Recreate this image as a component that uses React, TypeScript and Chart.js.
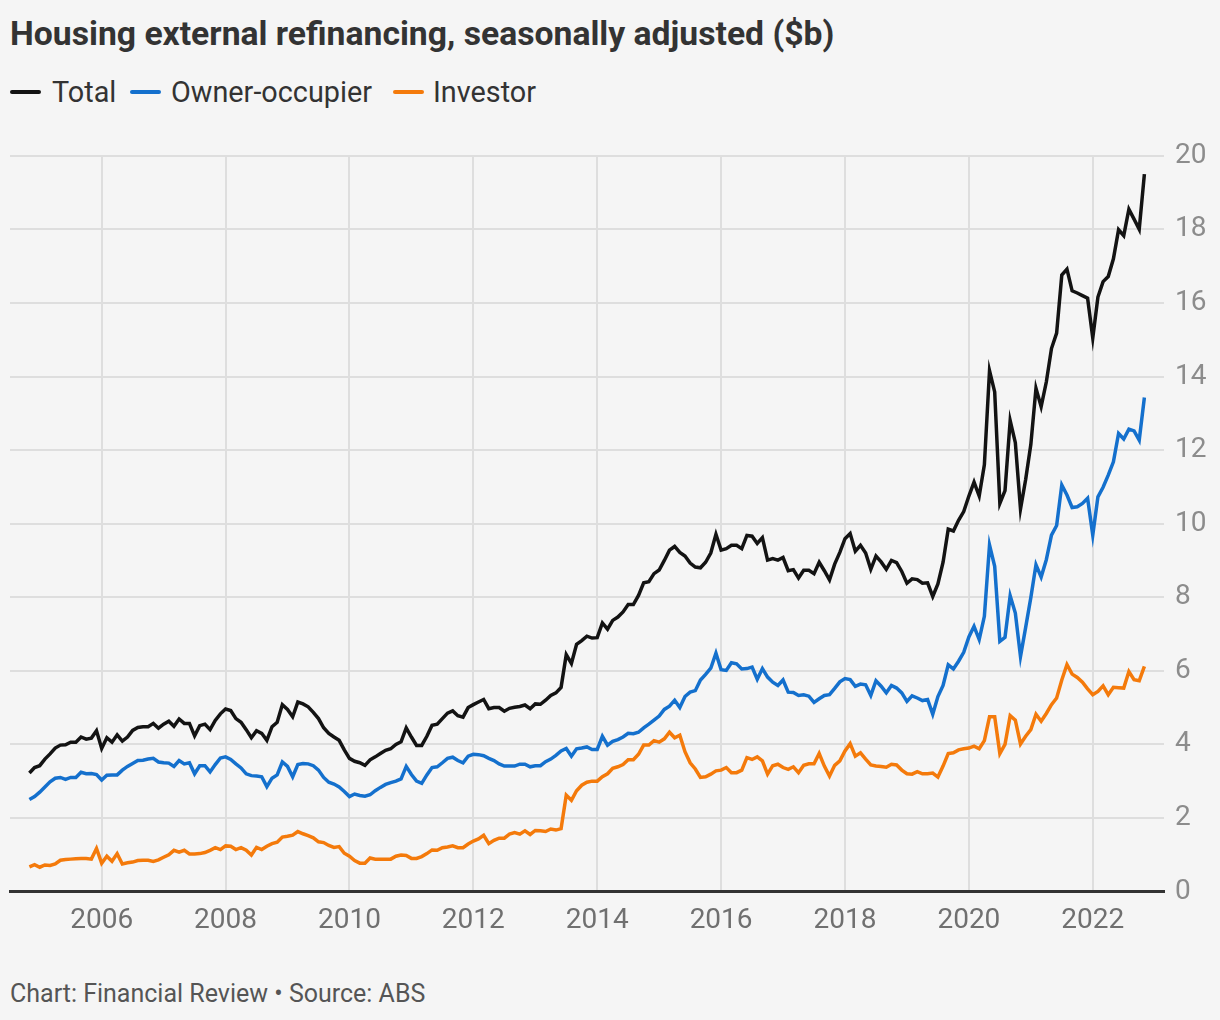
import React, { useEffect, useRef } from "react";
import { Chart, registerables } from "chart.js";

Chart.register(...registerables);

// Monthly series, first point November 2004
const START_YEAR = 2004;
const START_MONTH = 11;

const xTickYears = [2006, 2008, 2010, 2012, 2014, 2016, 2018, 2020, 2022];
const yTickValues = [0, 2, 4, 6, 8, 10, 12, 14, 16, 18, 20];

const seriesNames = ["Total", "Owner-occupier", "Investor"];
const seriesColors = ["#131313", "#1470cd", "#f47a0b"];

const total = [
  3.22, 3.37, 3.42, 3.6, 3.74, 3.9, 3.98, 3.99, 4.06, 4.06, 4.2, 4.14, 4.17, 4.37, 3.89, 4.18, 4.06, 4.26, 4.09, 4.2,
  4.38, 4.46, 4.48, 4.48, 4.57, 4.44, 4.55, 4.63, 4.49, 4.69, 4.57, 4.57, 4.23, 4.51, 4.55, 4.4, 4.65, 4.83, 4.96, 4.92,
  4.7, 4.6, 4.4, 4.18, 4.37, 4.3, 4.11, 4.48, 4.6, 5.08, 4.95, 4.75, 5.15, 5.1, 5.02, 4.87, 4.7, 4.45, 4.3, 4.2,
  4.11, 3.85, 3.62, 3.54, 3.5, 3.43, 3.58, 3.66, 3.75, 3.84, 3.88, 4.0, 4.07, 4.45, 4.2, 3.97, 3.97, 4.22, 4.52, 4.55,
  4.7, 4.85, 4.91, 4.78, 4.74, 5.0, 5.08, 5.15, 5.22, 4.97, 5.0, 5.0, 4.9, 4.98, 5.01, 5.03, 5.07, 4.97, 5.1, 5.09,
  5.2, 5.33, 5.4, 5.55, 6.44, 6.2, 6.72, 6.82, 6.94, 6.89, 6.9, 7.3, 7.13, 7.37, 7.46, 7.6, 7.8, 7.8, 8.05, 8.39,
  8.42, 8.64, 8.74, 9.0, 9.28, 9.38, 9.22, 9.12, 8.93, 8.82, 8.8, 8.95, 9.2, 9.71, 9.28, 9.32, 9.41, 9.41, 9.32, 9.68,
  9.66, 9.46, 9.62, 9.01, 9.05, 9.01, 9.08, 8.72, 8.75, 8.52, 8.73, 8.73, 8.64, 8.95, 8.72, 8.47, 8.9, 9.22, 9.59, 9.73,
  9.25, 9.41, 9.2, 8.76, 9.12, 8.96, 8.76, 9.0, 8.94, 8.7, 8.38, 8.5, 8.48, 8.38, 8.39, 8.02, 8.36, 8.95, 9.85, 9.8,
  10.09, 10.33, 10.75, 11.13, 10.75, 11.6, 14.16, 13.58, 10.55, 10.9, 12.8, 12.2, 10.4, 11.2, 12.15, 13.68, 13.18, 13.85, 14.76, 15.18,
  16.76, 16.92, 16.33, 16.27, 16.2, 16.13, 15.05, 16.16, 16.58, 16.72, 17.2, 17.99, 17.83, 18.55, 18.28, 18.0, 19.5,
];

const ownerOccupier = [
  2.5, 2.58, 2.7, 2.84, 2.98, 3.08, 3.1, 3.05, 3.1, 3.1, 3.24, 3.2, 3.21, 3.18, 3.03, 3.16, 3.17, 3.17, 3.3, 3.4,
  3.48, 3.56, 3.57, 3.6, 3.62, 3.52, 3.5, 3.49, 3.4, 3.56, 3.47, 3.5, 3.2, 3.42, 3.42, 3.25, 3.45, 3.63, 3.66, 3.59,
  3.47, 3.36, 3.2, 3.15, 3.14, 3.12, 2.85, 3.08, 3.17, 3.52, 3.4, 3.12, 3.45, 3.48, 3.47, 3.42, 3.3, 3.1, 2.97, 2.92,
  2.84, 2.72, 2.58, 2.65, 2.61, 2.59, 2.63, 2.74, 2.83, 2.91, 2.96, 3.0, 3.06, 3.4, 3.18, 3.0, 2.94, 3.17, 3.37, 3.39,
  3.5, 3.62, 3.65, 3.56, 3.5, 3.68, 3.73, 3.72, 3.69, 3.62, 3.56, 3.47, 3.41, 3.41, 3.41, 3.46, 3.46, 3.39, 3.42, 3.42,
  3.53, 3.6, 3.7, 3.82, 3.89, 3.68, 3.88, 3.9, 3.93, 3.86, 3.86, 4.22, 3.98, 4.08, 4.13, 4.2, 4.3, 4.29, 4.33, 4.45,
  4.55, 4.66, 4.77, 4.95, 5.04, 5.2, 5.0, 5.3, 5.42, 5.46, 5.75, 5.9, 6.07, 6.48, 6.03, 6.01, 6.22, 6.19, 6.05, 6.06,
  6.1, 5.77, 6.06, 5.83, 5.69, 5.6, 5.75, 5.42, 5.41, 5.33, 5.35, 5.31, 5.14, 5.24, 5.33, 5.35, 5.52, 5.7, 5.79, 5.76,
  5.58, 5.64, 5.62, 5.33, 5.73, 5.58, 5.4, 5.6, 5.53, 5.4, 5.17, 5.32, 5.26, 5.19, 5.22, 4.82, 5.3, 5.6, 6.16, 6.05,
  6.26, 6.5, 6.92, 7.21, 6.85, 7.48, 9.42, 8.84, 6.8, 6.91, 8.04, 7.57, 6.39, 7.18, 7.99, 8.88, 8.55, 9.02, 9.69, 9.95,
  11.05, 10.78, 10.44, 10.46, 10.55, 10.69, 9.69, 10.73, 10.99, 11.32, 11.68, 12.45, 12.3, 12.57, 12.52, 12.27, 13.43,
];

const investor = [
  0.67, 0.73, 0.66, 0.72, 0.71, 0.75, 0.85, 0.87, 0.88, 0.89, 0.9, 0.9, 0.88, 1.17, 0.77, 0.96, 0.82, 1.03, 0.75, 0.78,
  0.8, 0.84, 0.85, 0.85, 0.82, 0.86, 0.93, 1.0, 1.12, 1.07, 1.12, 1.02, 1.02, 1.03, 1.06, 1.12, 1.19, 1.14, 1.24, 1.23,
  1.14, 1.19, 1.12, 0.99, 1.2, 1.14, 1.23, 1.3, 1.34, 1.48, 1.5, 1.53, 1.63, 1.57, 1.52, 1.46, 1.35, 1.33, 1.25, 1.2,
  1.22, 1.04, 0.96, 0.84, 0.77, 0.77, 0.91, 0.88, 0.88, 0.88, 0.88, 0.96, 0.99, 0.98, 0.9, 0.9, 0.95, 1.03, 1.13, 1.12,
  1.19, 1.21, 1.24, 1.19, 1.19, 1.29, 1.37, 1.43, 1.53, 1.3, 1.39, 1.45, 1.45, 1.56, 1.6, 1.56, 1.65, 1.55, 1.66, 1.65,
  1.63, 1.7, 1.67, 1.71, 2.62, 2.48, 2.74, 2.89, 2.97, 3.0, 3.0, 3.12, 3.2, 3.35, 3.39, 3.45, 3.58, 3.58, 3.73, 3.98,
  3.98, 4.1, 4.06, 4.15, 4.33, 4.18, 4.25, 3.8, 3.5, 3.33, 3.1, 3.12, 3.19, 3.28, 3.3, 3.37, 3.23, 3.23, 3.3, 3.64,
  3.59, 3.66, 3.55, 3.19, 3.42, 3.46, 3.37, 3.32, 3.39, 3.23, 3.43, 3.47, 3.47, 3.75, 3.41, 3.14, 3.43, 3.55, 3.82, 4.02,
  3.68, 3.77, 3.6, 3.44, 3.41, 3.4, 3.38, 3.46, 3.44, 3.3, 3.2, 3.19, 3.26, 3.2, 3.2, 3.22, 3.11, 3.41, 3.75, 3.77,
  3.85, 3.88, 3.9, 3.95, 3.88, 4.1, 4.75, 4.75, 3.75, 4.0, 4.78, 4.66, 4.01, 4.22, 4.4, 4.82, 4.63, 4.84, 5.08, 5.26,
  5.75, 6.17, 5.91, 5.82, 5.69, 5.51, 5.35, 5.44, 5.59, 5.35, 5.55, 5.54, 5.53, 5.98, 5.76, 5.73, 6.12,
];

const seriesValues = [total, ownerOccupier, investor];

const monthToX = (i: number) => START_YEAR + (START_MONTH - 1 + i) / 12;

const FONT = "Roboto, 'Noto Sans', sans-serif";

export default function App() {
  const canvasRef = useRef<HTMLCanvasElement | null>(null);

  useEffect(() => {
    if (!canvasRef.current) return;
    const chart = new Chart(canvasRef.current, {
      type: "line",
      data: {
        datasets: seriesValues.map((vals, k) => ({
          label: seriesNames[k],
          data: vals.map((v, i) => ({ x: monthToX(i), y: v })),
          borderColor: seriesColors[k],
          backgroundColor: seriesColors[k],
          borderWidth: 3.5,
          pointRadius: 0,
          pointHoverRadius: 0,
          tension: 0,
          fill: false,
        })),
      },
      options: {
        animation: false,
        responsive: false,
        maintainAspectRatio: false,
        layout: { padding: { top: 0, left: 10, right: 0, bottom: 0 } },
        plugins: {
          legend: { display: false },
          tooltip: { enabled: false },
          title: { display: false },
        },
        scales: {
          x: {
            type: "linear",
            min: 2004.52,
            max: 2023.15,
            afterBuildTicks: (scale: any) => {
              scale.ticks = xTickYears.map((v) => ({ value: v }));
            },
            afterFit: (scale: any) => {
              scale.height = 68.5;
            },
            grid: { color: "#dedede", lineWidth: 2, drawTicks: false },
            border: { display: true, color: "#333333", width: 3 },
            ticks: {
              padding: 13,
              color: "#707070",
              font: { family: FONT, size: 28 },
              maxRotation: 0,
              autoSkip: false,
              callback: (v: any) => String(v),
            },
          },
          y: {
            type: "linear",
            position: "right",
            min: 0,
            max: 20,
            afterBuildTicks: (scale: any) => {
              scale.ticks = yTickValues.map((v) => ({ value: v }));
            },
            afterFit: (scale: any) => {
              scale.width = 56;
            },
            grid: { color: "#dedede", lineWidth: 2, drawTicks: false },
            border: { display: false },
            ticks: {
              padding: 11,
              color: "#8c8c8c",
              font: { family: FONT, size: 28 },
              callback: (v: any) => String(v),
            },
          },
        },
      },
    });
    return () => chart.destroy();
  }, []);

  const legendItems = [
    { line: 10, text: 52 },
    { line: 130, text: 171 },
    { line: 393, text: 433 },
  ];

  return (
    <div
      style={{
        position: "fixed",
        left: 0,
        top: 0,
        width: 1220,
        height: 1020,
        background: "#f5f5f5",
        fontFamily: FONT,
        color: "#333333",
        overflow: "hidden",
      }}
    >
      <div
        style={{
          position: "absolute",
          left: 10,
          top: 17,
          fontSize: 33.7,
          lineHeight: 1,
          fontWeight: 700,
          whiteSpace: "nowrap",
        }}
      >
        Housing external refinancing, seasonally adjusted ($b)
      </div>
      {legendItems.map((it, k) => (
        <React.Fragment key={k}>
          <div
            style={{
              position: "absolute",
              left: it.line,
              top: 90,
              width: 31,
              height: 4,
              borderRadius: 2,
              background: seriesColors[k],
            }}
          />
          <div
            style={{
              position: "absolute",
              left: it.text,
              top: 78,
              fontSize: 28.8,
              lineHeight: 1,
              whiteSpace: "nowrap",
            }}
          >
            {seriesNames[k]}
          </div>
        </React.Fragment>
      ))}
      <canvas
        ref={canvasRef}
        width={1220}
        height={832}
        style={{ position: "absolute", left: 0, top: 128, width: 1220, height: 832 }}
      />
      <div
        style={{
          position: "absolute",
          left: 10,
          top: 981,
          fontSize: 25,
          lineHeight: 1,
          color: "#555555",
          whiteSpace: "nowrap",
        }}
      >
        Chart: Financial Review • Source: ABS
      </div>
    </div>
  );
}
